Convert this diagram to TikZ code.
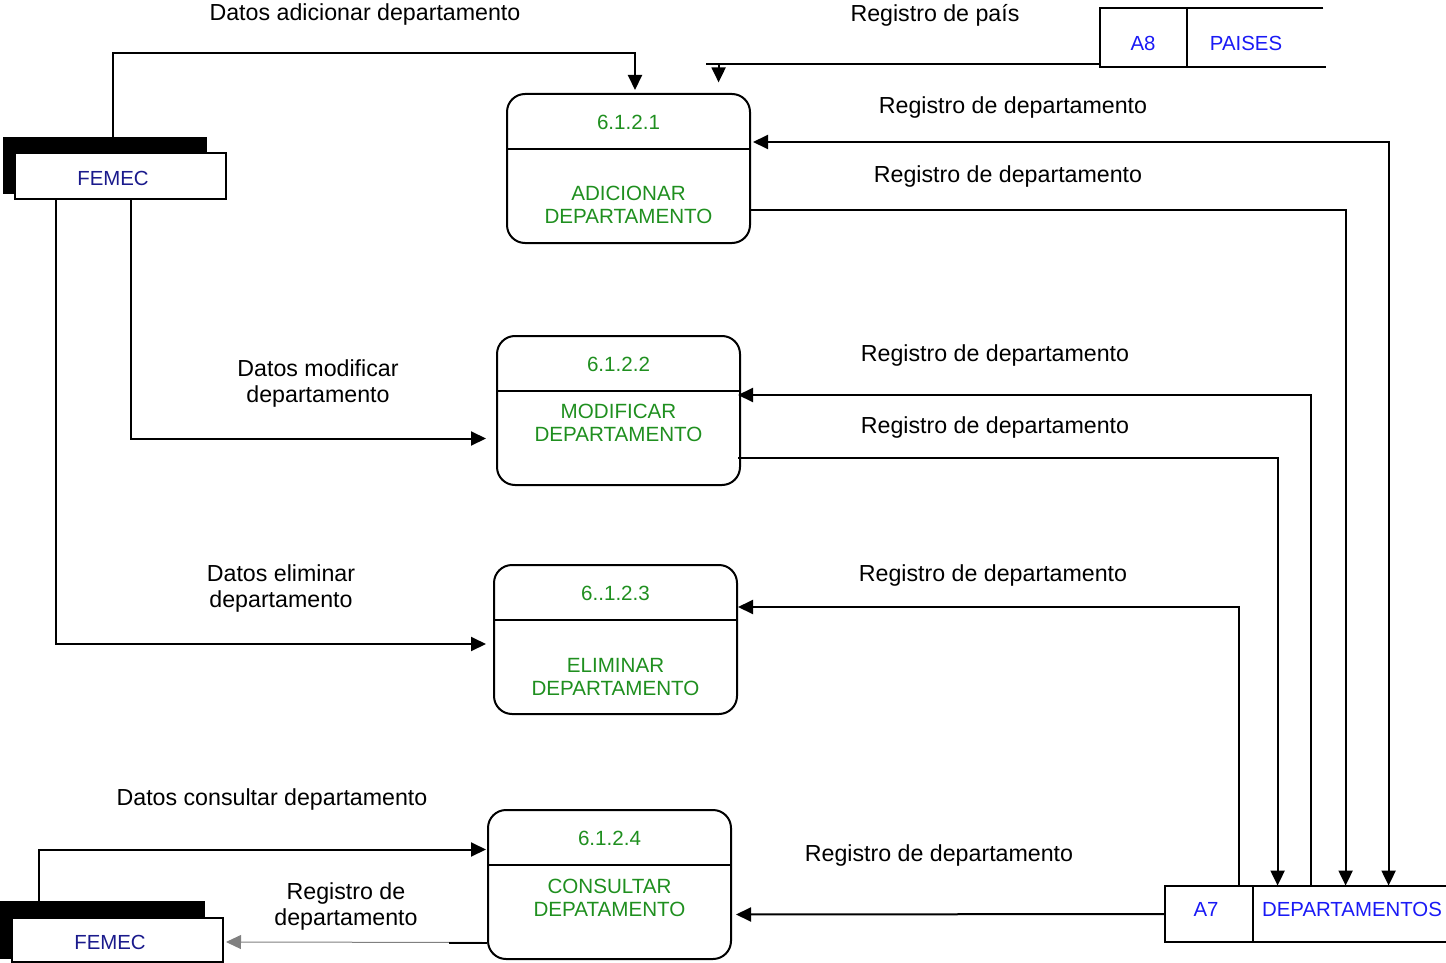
\documentclass[tikz,border=0pt]{standalone}
\usepackage{fontspec}
\setmainfont{Liberation Sans}
\usetikzlibrary{arrows.meta,calc}
\definecolor{DfdGreen}{HTML}{1F8F1F}
\definecolor{DfdBlue}{HTML}{1A1AF5}
\definecolor{DfdNavy}{HTML}{1A1A8C}
\tikzset{
  line/.style={line width=1pt},
  flow/.style={line width=1pt,-{Triangle[length=7.5pt,width=7pt]}},
  flowboth/.style={line width=1pt,{Triangle[length=7.5pt,width=7pt]}-{Triangle[length=7.5pt,width=7pt]}},
  lbl/.style={font=\fontsize{11.6}{13}\selectfont,inner sep=0pt,align=center},
  proc/.style={draw,line width=1pt,rounded corners=9pt,minimum width=121.5pt,minimum height=74.5pt},
  ptext/.style={font=\fontsize{10.3}{11.5}\selectfont,text=DfdGreen,inner sep=0pt,align=center},
  ext/.style={draw,fill=white,line width=1pt,minimum width=105.5pt,minimum height=22.5pt,inner sep=0pt},
  exttext/.style={font=\fontsize{10.2}{12}\selectfont,text=DfdNavy,inner sep=0pt},
  extshadow/.style={fill=black,inner sep=0pt},
  store/.style={inner sep=0pt},
  stext/.style={font=\fontsize{10.2}{12}\selectfont,text=DfdBlue,inner sep=0pt}
}

\begin{document}
\begin{tikzpicture}[x=0.5pt,y=-0.5pt]
  \useasboundingbox (0,0) rectangle (1446,963);

  \foreach \nm/\cx/\top/\num/\ly/\txt in {
    p1/628.5/93/6.1.2.1/112/ADICIONAR\\DEPARTAMENTO,
    p2/618.5/335/6.1.2.2/88/MODIFICAR\\DEPARTAMENTO,
    p3/615.5/564/6..1.2.3/113/ELIMINAR\\DEPARTAMENTO,
    p4/609.5/809/6.1.2.4/89/CONSULTAR\\DEPATAMENTO} {
    \node[proc,anchor=north] (\nm) at (\cx,\top) {};
    \draw[line] ($(\nm.north west)+(0,56)$) -- ($(\nm.north east)+(0,56)$);
    \node[ptext] (\nm num) at ($(\nm.north)+(0,29)$) {\num};
    \node[ptext] (\nm lbl) at ($(\nm.north)+(0,\ly)$) {\txt};
  }

  \node[extshadow,minimum width=102pt,minimum height=28.5pt] (femAsh) at (105,165.5) {};
  \node[ext] (femA) at (120.5,176) {};
  \node[exttext] (femAtxt) at (113,178) {FEMEC};
  \node[extshadow,minimum width=102.5pt,minimum height=29pt] (femBsh) at (102.5,930) {};
  \node[ext,minimum height=22pt] (femB) at (117.5,940) {};
  \node[exttext] (femBtxt) at (110,942) {FEMEC};

  \node[store,minimum width=113pt,minimum height=29.5pt] (a8) at (1213,37.5) {};
  \draw[line] ($(a8.north east)+(-3,0)$) -- (a8.north west) -- (a8.south west) -- (a8.south east);
  \draw[line] ($(a8.north west)+(87,0)$) -- ($(a8.south west)+(87,-1)$);
  \node[stext] (a8id) at (1143,43) {A8};
  \node[stext] (a8nm) at (1246,43) {PAISES};

  \node[store,minimum width=140.5pt,minimum height=28pt] (a7) at (1305.5,914) {};
  \draw[line] (a7.north east) -- (a7.north west) -- (a7.south west) -- (a7.south east);
  \draw[line] ($(a7.north west)+(88,0)$) -- ($(a7.south west)+(88,0)$);
  \node[stext] (a7id) at (1206,909) {A7};
  \node[stext] (a7nm) at (1352,909) {DEPARTAMENTOS};

  \draw[flow] ($(femAsh.north west)+(110,0)$) |- ($(p1.north west)+(129,-40)$) -- ($(p1.north west)+(129,-3)$);
  \draw[flow] ($(femA.south west)+(117,0)$) |- ($(p2.west)+(-10,28)$);
  \draw[flow] ($(femA.south west)+(42,0)$) |- ($(p3.west)+(-7,4.5)$);
  \draw[flow] ($(femBsh.north west)+(39,0)$) |- ($(p4.west)+(-1,-35)$);
  \draw[flow,line width=0.5pt,gray] ($(p4.west)+(0,58)$) -- ($(femB.east)+(2,2)$);
  \draw[line] ($(p4.west)+(0,58)$) -- ++(-38,0);

  \draw[line] ($(a8.south west)+(0,-3)$) -- ++(-394,0) coordinate (paisline);
  \draw[flow] ($(paisline)+(13,0)$) -- ++(0,18);

  \draw[flowboth] ($(p1.north east)+(2,49)$) -| ($(a7.north west)+(224,0)$);
  \draw[flow] ($(p1.north east)+(0,117)$) -| ($(a7.north west)+(181,0)$);
  \draw[flow] ($(a7.north west)+(146,0)$) |- ($(p2.north east)+(-3,60)$);
  \draw[flow] ($(p2.north east)+(-3,123)$) -| ($(a7.north west)+(113,0)$);
  \draw[flow] ($(a7.north west)+(74,0)$) |- ($(p3.north east)+(0,43)$);
  \draw[flow] (a7.west) -- ($(p4.east)+(4,30)$);

  \node[lbl] (lAdd) at (365,15) {Datos adicionar departamento};
  \node[lbl] (lPais) at (935,15) {Registro de país};
  \node[lbl] (lR1) at (1013,108) {Registro de departamento};
  \node[lbl] (lR2) at (1008,177) {Registro de departamento};
  \node[lbl] (lMod) at (318,383) {Datos modificar\\departamento};
  \node[lbl] (lR3) at (995,356) {Registro de departamento};
  \node[lbl] (lR4) at (995,427) {Registro de departamento};
  \node[lbl] (lDel) at (281,588) {Datos eliminar\\departamento};
  \node[lbl] (lR5) at (993,575) {Registro de departamento};
  \node[lbl] (lCon) at (272,799) {Datos consultar departamento};
  \node[lbl] (lR6) at (939,855) {Registro de departamento};
  \node[lbl] (lOut) at (346,906) {Registro de\\departamento};
\end{tikzpicture}
\end{document}
